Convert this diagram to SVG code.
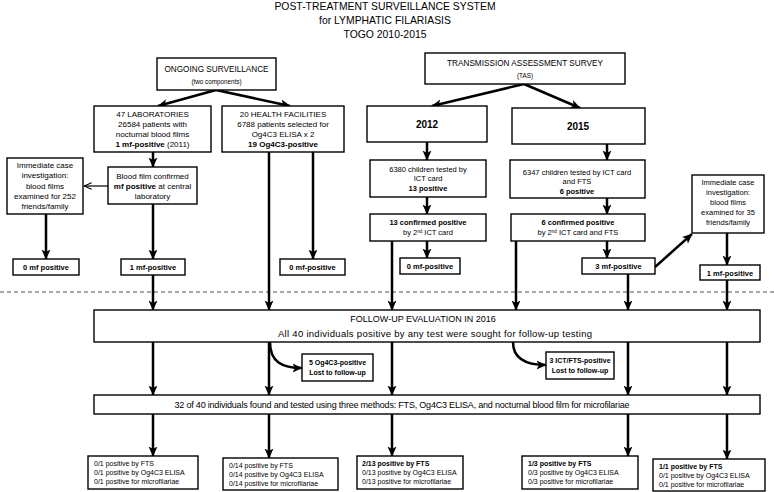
<svg xmlns="http://www.w3.org/2000/svg" width="774" height="492" viewBox="0 0 774 492">
<defs>
<marker id="ah" viewBox="0 0 10 10" refX="9.5" refY="5" markerWidth="10" markerHeight="10" markerUnits="userSpaceOnUse" orient="auto">
<path d="M0,0.5 L10,5 L0,9.5 L2.5,5 Z" fill="#000"/>
</marker>
<marker id="oh" viewBox="0 0 10 10" refX="9.5" refY="5" markerWidth="8" markerHeight="8" markerUnits="userSpaceOnUse" orient="auto">
<path d="M0,0.8 L9.3,5 L0,9.2" fill="none" stroke="#000" stroke-width="1.4"/>
</marker>
<style>
rect.b{fill:#fff;stroke:#000;stroke-width:1.4}
text{font-family:"Liberation Sans",Arial,sans-serif;fill:#000}
.c{text-anchor:middle}
.k{font-weight:bold}
.t{font-size:10.4px}
.h{font-size:8.2px}
.p{font-size:6.3px}
.m{font-size:8px}
.n{font-size:7.5px}
.q{font-size:7px}
.y{font-size:10px;font-weight:bold}
.ln{fill:none;stroke:#000;stroke-width:2.5;marker-end:url(#ah)}
.th{fill:none;stroke:#000;stroke-width:1.2;marker-end:url(#oh)}
.dash{stroke:#8c8c8c;stroke-width:1.3;stroke-dasharray:4 3}
</style>
</defs>
<rect width="774" height="492" fill="#fff"/>

<g id="title">
<text class="c t" x="385" y="10">POST-TREATMENT SURVEILLANCE SYSTEM</text>
<text class="c t" x="385" y="24">for LYMPHATIC FILARIASIS</text>
<text class="c t" x="385" y="38">TOGO 2010-2015</text>
</g>

<line class="dash" x1="0" y1="292" x2="774" y2="292"/>

<g id="connectors">
<path class="ln" d="M216,90 L158,106"/>
<path class="ln" d="M216,90 L290,106"/>
<path class="ln" d="M524,84 L432,106"/>
<path class="ln" d="M524,84 L580,108"/>
<path class="ln" d="M153,152 L153,167"/>
<path class="th" d="M108,186 L84,186"/>
<path class="ln" d="M46,214 L46,259"/>
<path class="ln" d="M153,204 L153,259"/>
<path class="ln" d="M153,275 L153,310"/>
<path class="ln" d="M269,152 L269,310"/>
<path class="ln" d="M313,152 L313,259"/>
<path class="ln" d="M427,142 L427,160"/>
<path class="ln" d="M427,197 L427,214"/>
<path class="ln" d="M427,241 L427,258"/>
<path class="ln" d="M392,241 L392,310"/>
<path class="ln" d="M607,144 L607,160"/>
<path class="ln" d="M607,198 L607,214"/>
<path class="ln" d="M607,241 L607,258"/>
<path class="ln" d="M516,241 L516,310"/>
<path class="ln" d="M628,274 L628,310"/>
<path class="ln" d="M655,267 L692,234"/>
<path class="ln" d="M727,233 L727,265"/>
<path class="ln" d="M727,280 L727,310"/>
<path class="ln" d="M153,342 L153,395"/>
<path class="ln" d="M269,342 L269,395"/>
<path class="ln" d="M392,342 L392,395"/>
<path class="ln" d="M628,342 L628,395"/>
<path class="ln" d="M727,342 L727,395"/>
<path class="ln" d="M270,342 C270,362 282,368 302,368"/>
<path class="ln" d="M513,342 C513,358 525,365 546,365"/>
<path class="ln" d="M153,414 L153,456"/>
<path class="ln" d="M269,414 L269,458"/>
<path class="ln" d="M392,414 L392,456"/>
<path class="ln" d="M628,414 L628,456"/>
<path class="ln" d="M727,414 L727,459"/>
</g>

<g id="ongoing">
<rect class="b" x="157" y="58" width="119" height="32"/>
<text class="c h" x="216.5" y="72">ONGOING SURVEILLANCE</text>
<text class="c p" x="216.5" y="84">(two components)</text>
</g>

<g id="tas">
<rect class="b" x="425" y="53" width="200" height="31"/>
<text class="c h" x="525" y="66">TRANSMISSION ASSESSMENT SURVEY</text>
<text class="c p" x="525" y="78">(TAS)</text>
</g>

<g id="labs">
<rect class="b" x="94" y="106" width="117" height="46"/>
<text class="c m" x="152.5" y="117">47 LABORATORIES</text>
<text class="c m" x="152.5" y="127">26584 patients with</text>
<text class="c m" x="152.5" y="137">nocturnal blood films</text>
<text class="c m" x="152.5" y="147"><tspan class="k">1 mf-positive</tspan> (2011)</text>
</g>

<g id="health">
<rect class="b" x="222" y="106" width="122" height="46"/>
<text class="c m" x="283" y="117">20 HEALTH FACILITIES</text>
<text class="c m" x="283" y="127">6788 patients selected for</text>
<text class="c m" x="283" y="137">Og4C3 ELISA x 2</text>
<text class="c m k" x="283" y="147">19 Og4C3-positive</text>
</g>

<g id="y2012">
<rect class="b" x="367" y="106" width="120" height="36"/>
<text class="c y" x="427" y="128">2012</text>
</g>

<g id="y2015">
<rect class="b" x="512" y="108" width="133" height="36"/>
<text class="c y" x="578" y="130">2015</text>
</g>

<g id="bloodfilm">
<rect class="b" x="108" y="167" width="89" height="37"/>
<text class="c m" x="152.5" y="179">Blood film confirmed</text>
<text class="c m" x="152.5" y="189"><tspan class="k">mf positive</tspan> at central</text>
<text class="c m" x="152.5" y="199">laboratory</text>
</g>

<g id="investigation252">
<rect class="b" x="7" y="158" width="76" height="56"/>
<text class="c m" x="45" y="168">Immediate case</text>
<text class="c m" x="45" y="178">investigation:</text>
<text class="c m" x="45" y="189">blood films</text>
<text class="c m" x="45" y="199">examined for 252</text>
<text class="c m" x="45" y="209">friends/family</text>
</g>

<g id="zero-mf-left">
<rect class="b" x="13" y="259" width="66" height="16"/>
<text class="c n k" x="46" y="270">0 mf positive</text>
</g>

<g id="one-mf-lab">
<rect class="b" x="121" y="259" width="64" height="16"/>
<text class="c n k" x="153" y="270">1 mf-positive</text>
</g>

<g id="zero-mf-health">
<rect class="b" x="280" y="259" width="65" height="16"/>
<text class="c n k" x="312.5" y="270">0 mf-positive</text>
</g>

<g id="tested2012">
<rect class="b" x="370" y="160" width="116" height="37"/>
<text class="c n" x="428" y="172">6380 children tested by</text>
<text class="c n" x="428" y="181">ICT card</text>
<text class="c n k" x="428" y="191">13 positive</text>
</g>

<g id="confirmed2012">
<rect class="b" x="370" y="214" width="116" height="27"/>
<text class="c n k" x="428" y="225">13 confirmed positive</text>
<text class="c n" x="428" y="235">by 2<tspan font-size="4.5px" dy="-2.5">nd</tspan><tspan dy="2.5"> ICT card</tspan></text>
</g>

<g id="zero-mf-2012">
<rect class="b" x="400" y="258" width="60" height="16"/>
<text class="c n k" x="430" y="269">0 mf-positive</text>
</g>

<g id="tested2015">
<rect class="b" x="510" y="160" width="135" height="38"/>
<text class="c n" x="577" y="175">6347 children tested by ICT card</text>
<text class="c n" x="577" y="184">and FTS</text>
<text class="c n k" x="577" y="194">6 positive</text>
</g>

<g id="confirmed2015">
<rect class="b" x="511" y="214" width="134" height="27"/>
<text class="c n k" x="578" y="225">6 confirmed positive</text>
<text class="c n" x="578" y="235">by 2<tspan font-size="4.5px" dy="-2.5">nd</tspan><tspan dy="2.5"> ICT card and FTS</tspan></text>
</g>

<g id="three-mf">
<rect class="b" x="582" y="258" width="73" height="16"/>
<text class="c n k" x="618.5" y="269">3 mf-positive</text>
</g>

<g id="investigation35">
<rect class="b" x="692" y="175" width="72" height="58"/>
<text class="c n" x="728" y="185">Immediate case</text>
<text class="c n" x="728" y="195">investigation:</text>
<text class="c n" x="728" y="205">blood films</text>
<text class="c n" x="728" y="215">examined for 35</text>
<text class="c n" x="728" y="225">friends/family</text>
</g>

<g id="one-mf-right">
<rect class="b" x="700" y="265" width="60" height="15"/>
<text class="c n k" x="730" y="275.5">1 mf-positive</text>
</g>

<g id="followup">
<rect class="b" x="94" y="310" width="666" height="32"/>
<text class="c" x="423" y="322" font-size="9px">FOLLOW-UP EVALUATION IN 2016</text>
<text class="c" x="435" y="337" font-size="9.5px" textLength="314">All 40 individuals positive by any test were sought for follow-up testing</text>
</g>

<g id="lost5">
<rect class="b" x="302" y="354" width="71" height="27"/>
<text class="c q k" x="337.5" y="365">5 Og4C3-positive</text>
<text class="c q k" x="337.5" y="375">Lost to follow-up</text>
</g>

<g id="lost3">
<rect class="b" x="546" y="352" width="68" height="27"/>
<text class="c q k" x="580" y="363">3 ICT/FTS-positive</text>
<text class="c q k" x="580" y="373">Lost to follow-up</text>
</g>

<g id="found32">
<rect class="b" x="94" y="395" width="666" height="19"/>
<text class="c" x="402" y="408" font-size="9px" textLength="455">32 of 40 individuals found and tested using three methods: FTS, Og4C3 ELISA, and nocturnal blood film for microfilariae</text>
</g>

<g id="result1">
<rect class="b" x="88" y="456" width="110" height="33"/>
<text class="q" x="94" y="466">0/1 positive by FTS</text>
<text class="q" x="94" y="475">0/1 positive by Og4C3 ELISA</text>
<text class="q" x="94" y="484">0/1 positive for microfilariae</text>
</g>

<g id="result2">
<rect class="b" x="223" y="458" width="115" height="32"/>
<text class="q" x="229" y="468">0/14 positive by FTS</text>
<text class="q" x="229" y="477">0/14 positive by Og4C3 ELISA</text>
<text class="q" x="229" y="486">0/14 positive for microfilariae</text>
</g>

<g id="result3">
<rect class="b" x="357" y="456" width="106" height="33"/>
<text class="q k" x="362" y="466">2/13 positive by FTS</text>
<text class="q" x="362" y="475">0/13 positive by Og4C3 ELISA</text>
<text class="q" x="362" y="484">0/13 positive for microfilariae</text>
</g>

<g id="result4">
<rect class="b" x="522" y="456" width="116" height="33"/>
<text class="q k" x="528" y="466">1/3 positive by FTS</text>
<text class="q" x="528" y="475">0/3 positive by Og4C3 ELISA</text>
<text class="q" x="528" y="484">0/3 positive for microfilariae</text>
</g>

<g id="result5">
<rect class="b" x="653" y="459" width="112" height="32"/>
<text class="q k" x="659" y="469">1/1 positive by FTS</text>
<text class="q" x="659" y="478">0/1 positive by Og4C3 ELISA</text>
<text class="q" x="659" y="487">0/1 positive for microfilariae</text>
</g>
</svg>
